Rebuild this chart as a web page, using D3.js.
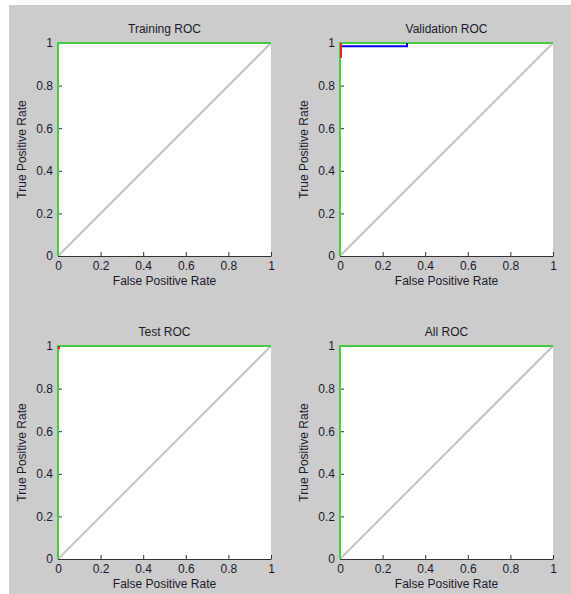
<!DOCTYPE html>
<html><head><meta charset="utf-8">
<script src="https://cdn.jsdelivr.net/npm/d3@7"></script>
<style>
html,body{margin:0;padding:0;background:#fff;}
svg{display:block;}
text{font-family:"Liberation Sans",Arial,sans-serif;fill:#1a1a2a;}
</style></head>
<body>
<script>
// ---- data ----
const titles = ["Training ROC", "Validation ROC", "Test ROC", "All ROC"];
const xLabel = "False Positive Rate";
const yLabel = "True Positive Rate";
const tickValues = [0, 0.2, 0.4, 0.6, 0.8, 1];
const tickLabels = ["0", "0.2", "0.4", "0.6", "0.8", "1"];
const diagonal = [[0, 0], [1, 1]];

// ROC curves per panel [fpr, tpr]
const trainingGreen = [[0, 0], [0, 1], [1, 1]];
const trainingBlue = [[0, 0], [0, 1], [1, 1]];
const trainingRed = [[0, 0], [0, 1], [1, 1]];

const validationGreen = [[0, 0], [0, 1], [1, 1]];
const validationBlue = [[0, 0.985], [0.31, 0.985], [0.31, 1]];
const validationRed = [[0, 0.93], [0, 1]];

const testGreen = [[0, 0], [0, 1], [1, 1]];
const testBlue = [[0, 0], [0, 1], [1, 1]];
const testRed = [[0, 0.985], [0, 1]];

const allGreen = [[0, 0], [0, 1], [1, 1]];
const allBlue = [[0, 0], [0, 1], [1, 1]];
const allRed = [[0, 0], [0, 1], [1, 1]];

const panelCurves = [
  {green: trainingGreen, blue: trainingBlue, red: trainingRed},
  {green: validationGreen, blue: validationBlue, red: validationRed},
  {green: testGreen, blue: testBlue, red: testRed},
  {green: allGreen, blue: allBlue, red: allRed}
];

// ---- layout ----
const W = 571, H = 594;
const svg = d3.select("body").append("svg").attr("width", W).attr("height", H);
svg.append("rect").attr("x", 9).attr("y", 5).attr("width", W - 9).attr("height", H - 5).attr("fill", "#cccccc");

const colX = [58, 340], rowY = [43, 346], size = 213;

titles.forEach((t, i) => {
  const ox = colX[i % 2], oy = rowY[Math.floor(i / 2)];
  const g = svg.append("g").attr("transform", `translate(${ox},${oy})`);
  const x = d3.scaleLinear().domain([0, 1]).range([0, size]);
  const y = d3.scaleLinear().domain([0, 1]).range([size, 0]);
  g.append("rect").attr("width", size).attr("height", size).attr("fill", "#fff");

  const line = d3.line().x(d => x(d[0])).y(d => y(d[1]));
  g.append("path").datum(diagonal).attr("d", line).attr("fill", "none")
    .attr("stroke", "#c4c4c4").attr("stroke-width", 2);

  // axes
  const xa = d3.axisBottom(x).tickValues(tickValues).tickFormat((d, k) => tickLabels[k]).tickSizeInner(-4).tickSizeOuter(0).tickPadding(7);
  const ya = d3.axisLeft(y).tickValues(tickValues).tickFormat((d, k) => tickLabels[k]).tickSizeInner(-4).tickSizeOuter(0).tickPadding(5);
  const gx = g.append("g").attr("transform", `translate(0,${size})`).call(xa);
  const gy = g.append("g").call(ya);
  [gx, gy].forEach(a => {
    a.select(".domain").attr("stroke", "#333");
    a.selectAll(".tick line").attr("stroke", "#333");
    a.selectAll("text").attr("font-size", 12).attr("fill", "#1a1a2a")
      .style("font-family", '"Liberation Sans",Arial,sans-serif');
  });
  gx.selectAll(".tick text").attr("dy", "0.55em");

  const c = panelCurves[i];
  g.append("path").datum(c.green).attr("d", line).attr("fill", "none").attr("stroke", "#44cc44").attr("stroke-width", 2);
  g.append("path").datum(c.blue).attr("d", line).attr("fill", "none").attr("stroke", "#0000ee").attr("stroke-width", 2)
    .attr("transform", i === 1 ? "translate(1,0)" : null).attr("opacity", i === 1 ? 1 : 0);
  g.append("path").datum(c.red).attr("d", line).attr("fill", "none").attr("stroke", "#ee2222").attr("stroke-width", 2)
    .attr("transform", "translate(1,0)").attr("opacity", (i === 1 || i === 2) ? 1 : 0);

  g.append("text").attr("x", size / 2).attr("y", -10).attr("text-anchor", "middle").attr("font-size", 12).text(t);
  g.append("text").attr("x", size / 2).attr("y", 242).attr("text-anchor", "middle").attr("font-size", 12).text(xLabel);
  g.append("text").attr("transform", `translate(-32,${size / 2}) rotate(-90)`).attr("text-anchor", "middle").attr("font-size", 12).text(yLabel);
});
</script>
</body></html>
